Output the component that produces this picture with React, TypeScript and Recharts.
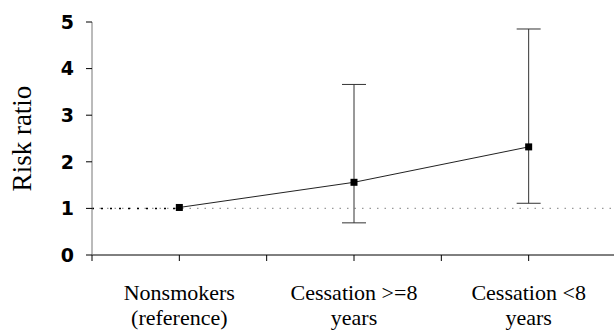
import {
  ComposedChart,
  Line,
  Scatter,
  ErrorBar,
  XAxis,
  YAxis,
  ReferenceLine,
} from "recharts";

const labelTop = ["Nonsmokers", "Cessation >=8", "Cessation <8"];
const labelBottom = ["(reference)", "years", "years"];
const riskRatio = [1.02, 1.56, 2.32];
const ciLower = [null, 0.69, 1.11];
const ciUpper = [null, 3.66, 4.85];
const yTicks = [0, 1, 2, 3, 4, 5];
const xTicks = [-0.5, 0, 0.5, 1, 1.5, 2, 2.5];

const data = riskRatio.map((rr, i) => ({
  x: i,
  rr,
  err:
    ciLower[i] == null ? undefined : [rr - (ciLower[i] as number), (ciUpper[i] as number) - rr],
}));
const ciData = data.filter((d) => d.err);

const SquareDot = (props: any) => {
  const { cx, cy } = props;
  if (cx == null || cy == null) return null;
  return <rect x={cx - 3.5} y={cy - 3.5} width={7} height={7} fill="#000" />;
};

const CategoryTick = (props: any) => {
  const { x, y, payload } = props;
  const v = payload.value;
  if (!Number.isInteger(v)) return null;
  return (
    <g>
      <text
        x={x}
        y={y + 37}
        textAnchor="middle"
        fontFamily="'Liberation Serif', 'Times New Roman', serif"
        fontSize={22}
        fill="#000"
      >
        {labelTop[v]}
      </text>
      <text
        x={x}
        y={y + 62}
        textAnchor="middle"
        fontFamily="'Liberation Serif', 'Times New Roman', serif"
        fontSize={22}
        fill="#000"
      >
        {labelBottom[v]}
      </text>
    </g>
  );
};

export default function App() {
  return (
    <div style={{ position: "absolute", left: 0, top: 0, width: 614, height: 334, background: "#fff" }}>
      <ComposedChart
        width={614}
        height={334}
        data={data}
        margin={{ top: 22, right: -2, bottom: 0, left: 0 }}
      >
        <XAxis
          type="number"
          dataKey="x"
          domain={[-0.5, 2.5]}
          ticks={xTicks}
          interval={0}
          height={79}
          tickSize={6}
          stroke="#000"
          tick={<CategoryTick />}
        />
        <YAxis
          type="number"
          domain={[0, 5]}
          ticks={yTicks}
          width={92}
          tickSize={6}
          tickMargin={12}
          stroke="#777"
          tickLine={{ stroke: "#000" }}
          tick={{
            fill: "#000",
            fontSize: 19,
            fontWeight: 700,
            fontFamily: "'DejaVu Sans', Arial, sans-serif",
          }}
          label={{
            value: "Risk ratio",
            angle: -90,
            position: "insideLeft",
            offset: 21,
            style: {
              fill: "#000",
              fontSize: 27,
              fontFamily: "'Liberation Serif', 'Times New Roman', serif",
              textAnchor: "middle",
            },
          }}
        />
        <ReferenceLine y={1} stroke="#999" strokeDasharray="1.5 6" strokeWidth={1.2} />
        <ReferenceLine
          segment={[
            { x: -0.5, y: 1 },
            { x: 0, y: 1 },
          ]}
          stroke="#000"
          strokeDasharray="2 7"
          strokeWidth={1.5}
        />
        <Scatter data={ciData} dataKey="rr" shape={() => null} isAnimationActive={false}>
          <ErrorBar dataKey="err" width={12} stroke="#333" strokeWidth={1} direction="y" />
        </Scatter>
        <Line
          dataKey="rr"
          type="linear"
          stroke="#222"
          strokeWidth={1}
          dot={<SquareDot />}
          activeDot={false}
          isAnimationActive={false}
        />
      </ComposedChart>
    </div>
  );
}
